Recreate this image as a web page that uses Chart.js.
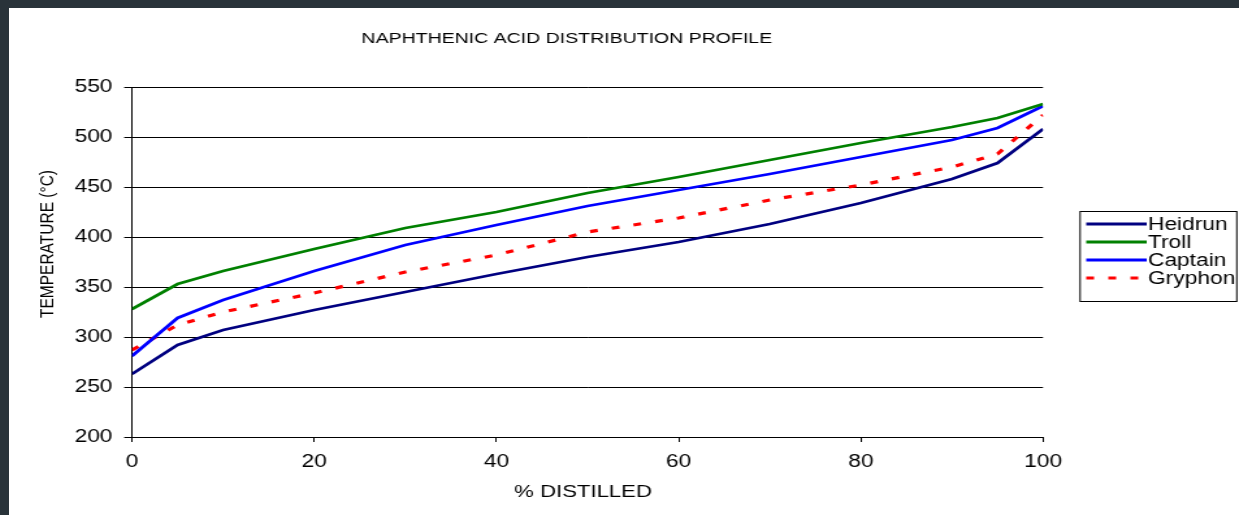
<!DOCTYPE html>
<html>
<head>
<meta charset="utf-8">
<title>Naphthenic acid distribution profile</title>
<script src="https://cdn.jsdelivr.net/npm/chart.js@4.4.1/dist/chart.umd.min.js"></script>
<style>
  html, body { margin: 0; padding: 0; background: #29333a; width: 1239px; height: 515px; overflow: hidden; }
  #frame { position: absolute; left: 9px; top: 8px; width: 1230px; height: 507px; background: #fff; overflow: hidden; }
  /* the source picture is stretched sideways, so the chart is drawn narrower and scaled */
  #wrap { position: absolute; left: 0; top: 0; width: 946px; height: 507px; transform: scaleX(1.3002); transform-origin: 0 0; }
</style>
</head>
<body>
<div id="frame"><div id="wrap"><canvas id="myChart"></canvas></div></div>
<script>
// % distilled
const distilled = [0, 5, 10, 20, 30, 40, 50, 60, 70, 80, 90, 95, 100];
// temperature (°C) per crude
const heidrun = [263, 292, 307, 327, 345, 363, 380, 395, 413, 434, 458, 474, 508];
const troll   = [328, 353, 366, 388, 409, 425, 444, 460, 477, 494, 510, 519, 533];
const captain = [281, 319, 337, 366, 392, 412, 431, 447, 463, 480, 497, 509, 531];
const gryphon = [287, 312, 325, 344, 365, 382, 405, 419, 437, 452, 470, 483, 522];

const seriesNames = ["Heidrun", "Troll", "Captain", "Gryphon"];
const xTicks = [0, 20, 40, 60, 80, 100];
const yTicks = [200, 250, 300, 350, 400, 450, 500, 550];

const FONT = "'Liberation Sans', Arial, sans-serif";

function toPoints(values) {
  return values.map((v, i) => ({ x: distilled[i], y: v }));
}

function makeSet(name, values, color, width, dash) {
  return {
    label: name,
    data: toPoints(values),
    borderColor: color,
    backgroundColor: color,
    borderWidth: width,
    borderDash: dash,
    pointRadius: 0,
    tension: 0,
    fill: false,
  };
}

// titles and the boxed legend, placed like the excel original
const decor = {
  id: "decor",
  afterDraw(chart) {
    const ctx = chart.ctx;
    ctx.save();
    ctx.fillStyle = "#000";
    ctx.textBaseline = "middle";

    ctx.font = "15px " + FONT;
    ctx.textAlign = "center";
    ctx.fillText("NAPHTHENIC ACID DISTRIBUTION PROFILE", 429, 30.5);

    ctx.font = "17px " + FONT;
    ctx.fillText("% DISTILLED", 441.5, 484);

    ctx.font = "15.5px " + FONT;
    ctx.save();
    ctx.translate(30, 236);
    ctx.rotate(-Math.PI / 2);
    ctx.fillText("TEMPERATURE (°C)", 0, 0);
    ctx.restore();

    // legend
    ctx.strokeStyle = "#000";
    ctx.lineWidth = 1;
    ctx.strokeRect(823.8, 203.5, 120.5, 90);
    ctx.font = "17.5px " + FONT;
    ctx.textAlign = "left";
    chart.data.datasets.forEach((ds, i) => {
      const y = 216 + i * 18;
      ctx.beginPath();
      ctx.strokeStyle = ds.borderColor;
      ctx.lineWidth = ds.borderWidth;
      ctx.setLineDash(ds.borderDash || []);
      ctx.moveTo(828.5, y);
      ctx.lineTo(875, y);
      ctx.stroke();
      ctx.setLineDash([]);
      ctx.fillText(ds.label, 876, y + 1);
    });
    ctx.restore();
  },
};

new Chart("myChart", {
  type: "line",
  data: {
    datasets: [
      makeSet(seriesNames[0], heidrun, "#000080", 2.8, []),
      makeSet(seriesNames[1], troll, "#008000", 2.8, []),
      makeSet(seriesNames[2], captain, "#0000ff", 2.8, []),
      makeSet(seriesNames[3], gryphon, "#ff0000", 3.2, [6, 11]),
    ],
  },
  options: {
    responsive: true,
    maintainAspectRatio: false,
    animation: false,
    layout: { padding: { left: 0, right: 150.7, top: 79, bottom: 0 } },
    plugins: {
      legend: { display: false },
      title: { display: false },
      tooltip: { enabled: false },
    },
    scales: {
      x: {
        type: "linear",
        min: 0,
        max: 100,
        afterBuildTicks: (s) => { s.ticks = xTicks.map((v) => ({ value: v })); },
        afterFit: (s) => { s.height = 78; },
        grid: { drawOnChartArea: false, drawTicks: true, tickLength: 5, color: "#000" },
        border: { color: "#000", width: 1 },
        ticks: { color: "#000", padding: 10, maxRotation: 0, font: { family: FONT, size: 17.5 } },
      },
      y: {
        min: 200,
        max: 550,
        afterBuildTicks: (s) => { s.ticks = yTicks.map((v) => ({ value: v })); },
        afterFit: (s) => { s.width = 94.6; },
        grid: { color: "#000", lineWidth: 1, tickLength: 6 },
        border: { color: "#000", width: 1 },
        ticks: { color: "#000", padding: 9, font: { family: FONT, size: 17.5 } },
      },
    },
  },
  plugins: [decor],
});
</script>
</body>
</html>
